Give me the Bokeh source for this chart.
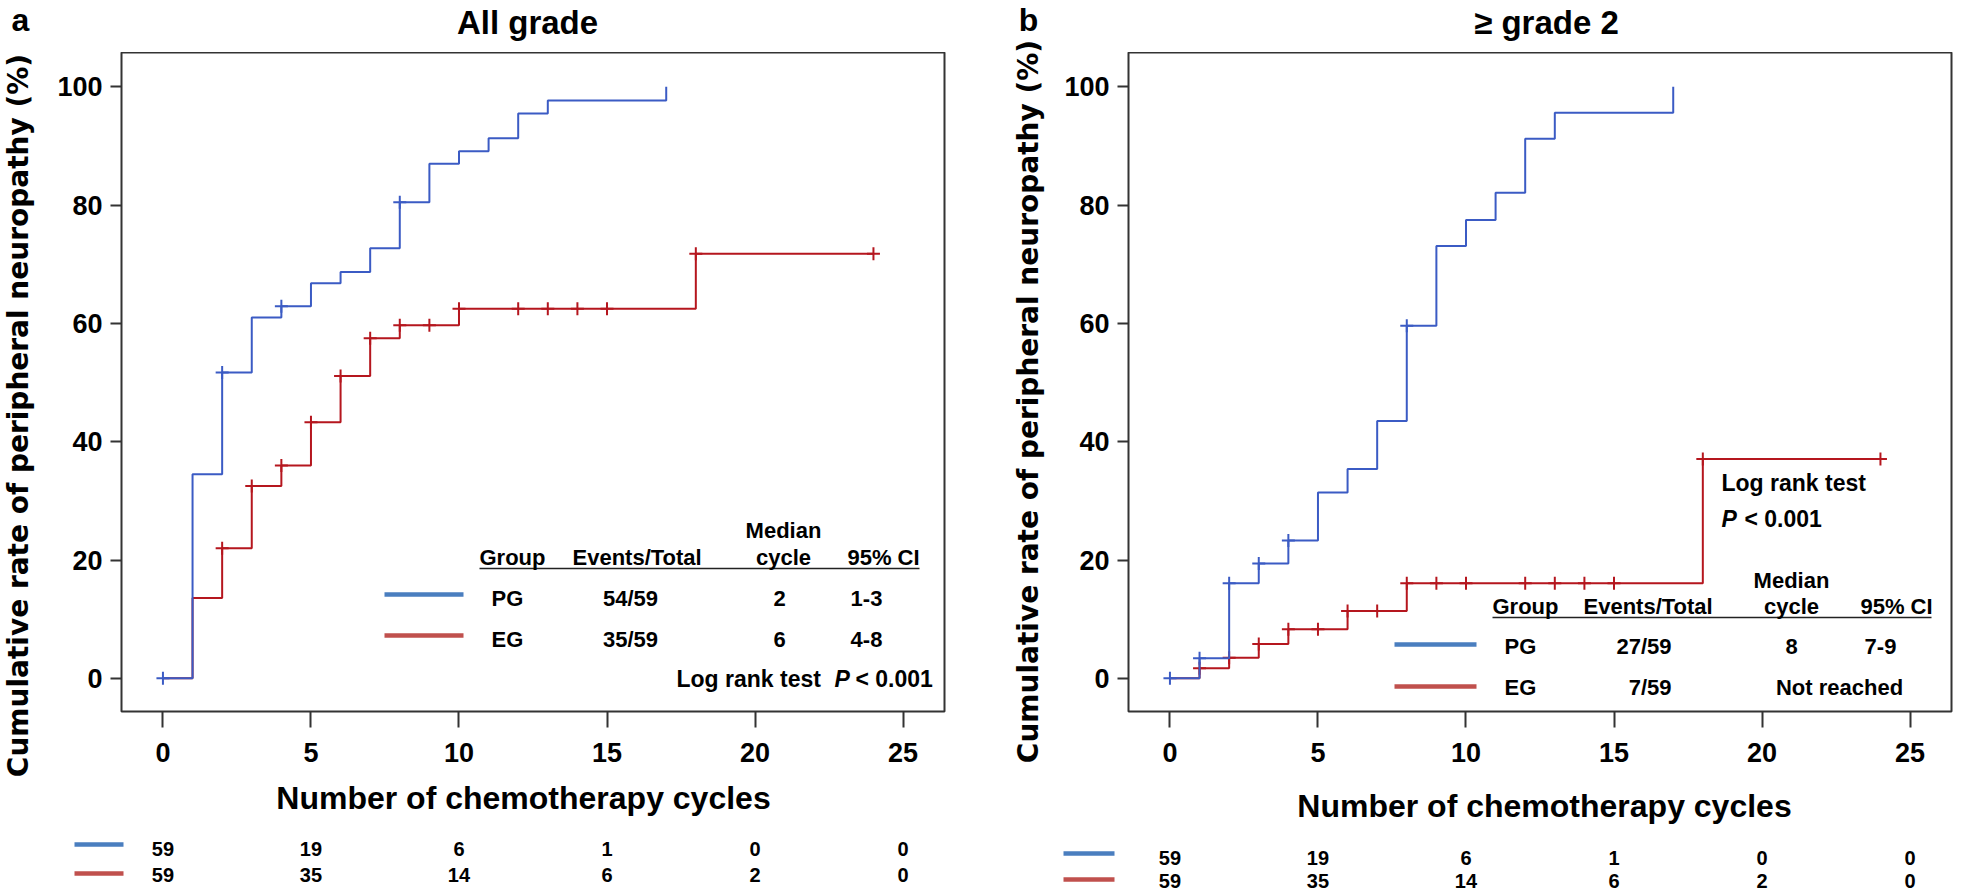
import math
from bokeh.plotting import figure
from bokeh.models import Range1d, Label, FixedTicker
from bokeh.layouts import row, column
from bokeh.embed import file_html
from bokeh.resources import INLINE

# ---------------- data ----------------
# Panel a: All grade
pg_all_t = [0, 1, 2, 3, 4, 5, 6, 7, 8, 9, 10, 11, 12, 13, 17]
pg_all_y = [0, 34.5, 51.7, 61.0, 62.9, 66.8, 68.7, 72.7, 80.5, 87.0, 89.1, 91.3, 95.5, 97.7, 100]
pg_all_cens = [0, 2, 4, 8]
eg_all_t = [0, 1, 2, 3, 4, 5, 6, 7, 8, 10, 18, 24]
eg_all_y = [0, 13.6, 22.0, 32.5, 36.0, 43.3, 51.1, 57.5, 59.7, 62.5, 71.8, 71.8]
eg_all_cens = [2, 3, 4, 5, 6, 7, 8, 9, 10, 12, 13, 14, 15, 18, 24]

# Panel b: >= grade 2
pg_g2_t = [0, 1, 2, 3, 4, 5, 6, 7, 8, 9, 10, 11, 12, 13, 17]
pg_g2_y = [0, 3.4, 16.1, 19.4, 23.3, 31.4, 35.4, 43.5, 59.6, 73.1, 77.5, 82.1, 91.2, 95.6, 100]
pg_g2_cens = [0, 1, 2, 3, 4, 8]
eg_g2_t = [0, 1, 2, 3, 4, 6, 8, 18, 24]
eg_g2_y = [0, 1.7, 3.5, 5.8, 8.3, 11.4, 16.1, 37.1, 37.1]
eg_g2_cens = [1, 2, 3, 4, 5, 6, 7, 8, 9, 10, 12, 13, 14, 15, 18, 24]

x_ticks = [0, 5, 10, 15, 20, 25]
y_ticks = [0, 20, 40, 60, 80, 100]
risk_times = [0, 5, 10, 15, 20, 25]
risk_pg = [59, 19, 6, 1, 0, 0]
risk_eg = [59, 35, 14, 6, 2, 0]

table_a = {"PG": ["54/59", "2", "1-3"], "EG": ["35/59", "6", "4-8"]}
table_b = {"PG": ["27/59", "8", "7-9"], "EG": ["7/59", "Not reached"]}

Y_LABEL = "Cumulative rate of peripheral neuropathy (%)"
X_LABEL = "Number of chemotherapy cycles"

BLUE = "#3b5bc4"
RED = "#b5161e"
LEG_BLUE = "#4a7ebf"
LEG_RED = "#c0504d"
FONT = "Liberation Sans"

X0, X1 = -1.4, 26.4
Y0, Y1 = -5.6, 105.8
FRAME_TOP = 52
FRAME_H = 659
FRAME_W = 823
TOTAL_H = 890
TOP_H = 52
MAIN_H = 723
BOT_H = TOTAL_H - TOP_H - MAIN_H
YL_W = 40


def val_at(ts, ys, t):
    v = ys[0]
    for ti, yi in zip(ts, ys):
        if ti <= t:
            v = yi
    return v


def page_to_dx(frame_left, px):
    return X0 + (px - frame_left) / FRAME_W * (X1 - X0)


def page_to_dy(py):
    return Y1 - (py - FRAME_TOP) / FRAME_H * (Y1 - Y0)


def text(p, x, y, s, size=22, align="left", font=FONT, style="bold", angle=0,
         baseline="middle", color="black"):
    p.add_layout(Label(x=x, y=y, text=s, text_font=font, text_font_style=style,
                       text_font_size=f"{size}px", text_align=align,
                       text_baseline=baseline, angle=angle, text_color=color))


def strip(w, h, xr, yr):
    p = figure(width=w, height=h, x_range=xr, y_range=yr, x_axis_type=None,
               y_axis_type=None, min_border=0, outline_line_color=None,
               toolbar_location=None, output_backend="svg", title=None)
    p.grid.visible = False
    return p


def make_panel(page_left, width, frame_left, pg, eg, letter, title, ylab,
               xlab, risk_rows, risk_lines, legend_fn):
    right_pad = width - (frame_left - page_left) - FRAME_W
    # y-label strip (full height) with panel letter
    yl = strip(YL_W, TOTAL_H, Range1d(page_left, page_left + YL_W), Range1d(TOTAL_H, 0))
    text(yl, page_left + 20, 19, letter, size=32, align="center")
    text(yl, ylab[0], ylab[1], Y_LABEL, size=28,
         align="center", font="DejaVu Sans", angle=math.pi / 2)

    inner_left = page_left + YL_W
    inner_w = width - YL_W
    # title strip
    tp = strip(inner_w, TOP_H, Range1d(inner_left, inner_left + inner_w), Range1d(TOP_H, 0))
    text(tp, title[1], 21.5, title[0], size=33, align="center")

    # main plot
    p = figure(width=inner_w, height=MAIN_H, x_range=Range1d(X0, X1), y_range=Range1d(Y0, Y1),
               min_border_left=frame_left - inner_left, min_border_right=right_pad,
               min_border_top=0, min_border_bottom=MAIN_H - FRAME_H,
               output_backend="svg", toolbar_location=None, title=None)
    p.grid.visible = False
    p.outline_line_color = "#333333"
    p.outline_line_width = 2
    p.xaxis.ticker = FixedTicker(ticks=x_ticks)
    p.yaxis.ticker = FixedTicker(ticks=y_ticks)
    for ax in (p.xaxis, p.yaxis):
        ax.axis_line_color = None
        ax.major_tick_in = 0
        ax.minor_tick_line_color = None
        ax.major_tick_line_width = 2
        ax.major_tick_line_color = "#333333"
        ax.major_label_text_font = FONT
        ax.major_label_text_font_style = "bold"
        ax.major_label_text_font_size = "27px"
        ax.major_label_text_color = "black"
    p.xaxis.major_tick_out = 16
    p.yaxis.major_tick_out = 11
    p.xaxis.major_label_standoff = 15
    p.yaxis.major_label_standoff = 8

    (pg_t, pg_y, pg_c), (eg_t, eg_y, eg_c) = pg, eg
    p.step(eg_t, eg_y, mode="after", line_color=RED, line_width=2)
    p.scatter(eg_c, [val_at(eg_t, eg_y, t) for t in eg_c], marker="cross",
              size=13, line_color=RED, line_width=2)
    p.step(pg_t, pg_y, mode="after", line_color=BLUE, line_width=2)
    p.scatter(pg_c, [val_at(pg_t, pg_y, t) for t in pg_c], marker="cross",
              size=13, line_color=BLUE, line_width=2)

    fx = lambda px: page_to_dx(frame_left, px)
    legend_fn(p, fx, page_to_dy)

    # bottom strip: x label + number-at-risk table
    bt = strip(inner_w, BOT_H,
               Range1d(fx(inner_left), fx(inner_left + inner_w)),
               Range1d(TOTAL_H, TOP_H + MAIN_H))
    text(bt, fx(xlab[0]), xlab[1], X_LABEL, size=32, align="center")
    (lx0, lx1), (ly1, ly2) = risk_lines
    bt.segment(x0=[fx(lx0)] * 2, y0=[ly1, ly2], x1=[fx(lx1)] * 2, y1=[ly1, ly2],
               line_color=[LEG_BLUE, LEG_RED], line_width=4.5)
    for t, n1, n2 in zip(risk_times, risk_pg, risk_eg):
        text(bt, t, risk_rows[0], str(n1), size=20, align="center")
        text(bt, t, risk_rows[1], str(n2), size=20, align="center")

    # wrap each plot in its own row so that the column does not align plot borders
    return row(yl, column(row(tp), row(p), row(bt)))


def legend_a(p, fx, fy):
    text(p, fx(783), fy(529.5), "Median", align="center")
    text(p, fx(479), fy(556.5), "Group")
    text(p, fx(572), fy(556.5), "Events/Total")
    text(p, fx(783), fy(556.5), "cycle", align="center")
    text(p, fx(883), fy(556.5), "95% CI", align="center")
    p.segment(x0=[fx(479)], y0=[fy(568)], x1=[fx(919)], y1=[fy(568)],
              line_color="#222222", line_width=1.5)
    for key, cy, ly, col in (("PG", 597.5, 594, LEG_BLUE), ("EG", 638.5, 635, LEG_RED)):
        p.segment(x0=[fx(384)], y0=[fy(ly)], x1=[fx(463)], y1=[fy(ly)],
                  line_color=col, line_width=4.5)
        text(p, fx(491), fy(cy), key)
        text(p, fx(630), fy(cy), table_a[key][0], align="center")
        text(p, fx(779), fy(cy), table_a[key][1], align="center")
        text(p, fx(866), fy(cy), table_a[key][2], align="center")
    text(p, fx(676), fy(678), "Log rank test", size=23)
    text(p, fx(834), fy(678), "P", size=23, style="bold italic")
    text(p, fx(855), fy(678), "< 0.001", size=23)


def legend_b(p, fx, fy):
    text(p, fx(1721), fy(482), "Log rank test", size=23)
    text(p, fx(1721), fy(518), "P", size=23, style="bold italic")
    text(p, fx(1744), fy(518), "< 0.001", size=23)
    text(p, fx(1791), fy(579.5), "Median", align="center")
    text(p, fx(1492), fy(605.5), "Group")
    text(p, fx(1583), fy(605.5), "Events/Total")
    text(p, fx(1791), fy(605.5), "cycle", align="center")
    text(p, fx(1896), fy(605.5), "95% CI", align="center")
    p.segment(x0=[fx(1492)], y0=[fy(617)], x1=[fx(1931)], y1=[fy(617)],
              line_color="#222222", line_width=1.5)
    for key, cy, ly, col in (("PG", 645.5, 644, LEG_BLUE), ("EG", 687, 686, LEG_RED)):
        p.segment(x0=[fx(1394)], y0=[fy(ly)], x1=[fx(1476)], y1=[fy(ly)],
                  line_color=col, line_width=4.5)
        text(p, fx(1504), fy(cy), key)
        text(p, fx(1671), fy(cy), table_b[key][0], align="right")
        if key == "PG":
            text(p, fx(1791), fy(cy), table_b[key][1], align="center")
            text(p, fx(1880), fy(cy), table_b[key][2], align="center")
        else:
            text(p, fx(1839), fy(cy), table_b[key][1], align="center")


panel_a = make_panel(0, 1008, 121,
                     (pg_all_t, pg_all_y, pg_all_cens),
                     (eg_all_t, eg_all_y, eg_all_cens),
                     "a", ("All grade", 527), (18, 415), (523, 797.5),
                     (848, 874), ((74, 123), (844, 873)), legend_a)
panel_b = make_panel(1008, 950, 1128,
                     (pg_g2_t, pg_g2_y, pg_g2_cens),
                     (eg_g2_t, eg_g2_y, eg_g2_cens),
                     "b", ("≥ grade 2", 1546), (1028, 401), (1544, 805.5),
                     (857, 880), ((1063, 1114), (853, 879)), legend_b)

layout = row(panel_a, panel_b)
open("out.html", "w").write(file_html(layout, INLINE))
